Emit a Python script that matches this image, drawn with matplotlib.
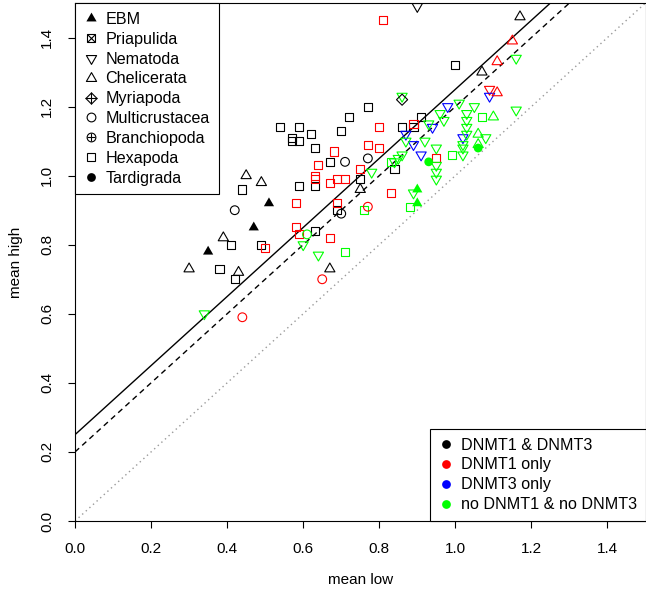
import numpy as np
import matplotlib
matplotlib.use("Agg")
import matplotlib.pyplot as plt
from matplotlib.lines import Line2D
from matplotlib.path import Path

plt.rcParams['font.family'] = ['Liberation Sans', 'DejaVu Sans']

# DNMT status -> colour
status_colors = {"both": "black", "d1": "red", "d3": "blue", "none": "#00ff00"}
status_labels = ["DNMT1 & DNMT3", "DNMT1 only", "DNMT3 only", "no DNMT1 & no DNMT3"]
status_order = ["both", "d1", "d3", "none"]

# reference lines: intercepts of slope-1 lines
solid_icpt = 0.25
dashed_icpt = 0.20
dotted_icpt = 0.0

# ---- data per taxon (mean low, mean high, DNMT status) ----
hexa_x = [0.44, 0.54, 0.59, 0.62, 0.57, 0.57, 0.59, 0.63, 0.67, 0.59, 0.63, 0.69, 0.63,
          0.41, 0.49, 0.38, 0.42, 0.72, 0.77, 1.00, 0.91, 0.86, 0.89, 0.84, 0.75,
          0.81, 0.68, 0.64, 0.63, 0.63, 0.67, 0.69, 0.71, 0.75, 0.58, 0.69, 0.58, 0.59,
          0.67, 0.50, 0.80, 0.80, 0.77, 0.89, 0.95, 0.83,
          0.71, 1.07, 0.99, 0.88, 0.76, 0.83]
hexa_y = [0.96, 1.14, 1.14, 1.12, 1.11, 1.10, 1.10, 1.08, 1.04, 0.97, 0.97, 0.90, 0.84,
          0.80, 0.80, 0.73, 0.70, 1.17, 1.20, 1.32, 1.17, 1.14, 1.14, 1.02, 0.99,
          1.45, 1.07, 1.03, 1.00, 0.99, 0.98, 0.99, 0.99, 1.02, 0.92, 0.92, 0.85, 0.83,
          0.82, 0.79, 1.14, 1.08, 1.09, 1.15, 1.05, 0.95,
          0.78, 1.17, 1.06, 0.91, 0.90, 1.04]
hexa_s = ["both"] * 25 + ["d1"] * 21 + ["none"] * 6

nema_x = [0.90, 1.09,
          1.09, 0.98, 0.94, 0.87, 1.02, 0.89, 0.91,
          0.34, 0.60, 0.64, 1.16, 1.16, 0.86, 1.01, 1.05, 0.96, 0.97, 1.03, 1.03, 1.03,
          1.03, 0.93, 0.87, 0.92, 1.08, 1.02, 1.02, 1.02, 0.95, 0.95, 0.95, 0.95, 0.86,
          0.85, 0.84, 0.78, 0.89]
nema_y = [1.49, 1.25,
          1.23, 1.20, 1.14, 1.12, 1.11, 1.09, 1.06,
          0.60, 0.80, 0.77, 1.34, 1.19, 1.23, 1.21, 1.20, 1.18, 1.16, 1.18, 1.16, 1.14,
          1.12, 1.15, 1.10, 1.10, 1.11, 1.09, 1.08, 1.06, 1.08, 1.03, 1.01, 0.99, 1.06,
          1.05, 1.04, 1.01, 0.95]
nema_s = ["both", "d1"] + ["d3"] * 7 + ["none"] * 30

chel_x = [0.45, 0.49, 0.39, 0.30, 0.43, 0.67, 0.75, 1.17, 1.07, 1.15, 1.11, 1.11, 1.10, 1.06, 1.06]
chel_y = [1.00, 0.98, 0.82, 0.73, 0.72, 0.73, 0.96, 1.46, 1.30, 1.39, 1.33, 1.24, 1.17, 1.12, 1.09]
chel_s = ["both"] * 9 + ["d1"] * 3 + ["none"] * 3

mcru_x = [0.42, 0.70, 0.65, 0.44, 0.77, 0.61]
mcru_y = [0.90, 0.89, 0.70, 0.59, 0.91, 0.83]
mcru_s = ["both", "both", "d1", "d1", "d1", "none"]

bran_x = [0.71, 0.77]
bran_y = [1.04, 1.05]
bran_s = ["both", "both"]

myri_x = [0.86]
myri_y = [1.22]
myri_s = ["both"]

pria_x = [0.70]
pria_y = [1.13]
pria_s = ["both"]

ebm_x = [0.51, 0.47, 0.35, 0.90, 0.90]
ebm_y = [0.92, 0.85, 0.78, 0.96, 0.92]
ebm_s = ["both", "both", "both", "none", "none"]

tard_x = [1.06, 0.93]
tard_y = [1.08, 1.04]
tard_s = ["none", "none"]

# R-like equilateral triangles (centred on centroid)
tri_up = Path([(0, 1), (-0.866, -0.5), (0.866, -0.5), (0, 1)], closed=True)
tri_dn = Path([(0, -1), (-0.866, 0.5), (0.866, 0.5), (0, -1)], closed=True)
diamond = Path([(0, 1), (1, 0), (0, -1), (-1, 0), (0, 1)], closed=True)

lw = 0.8
sq_ms = 5.8
tri_ms = 8.5
circ_ms = 6.3
dia_ms = 8.0

fig = plt.figure(figsize=(6.46, 5.97), dpi=100)
ax = fig.add_axes([75 / 646, 76 / 597, 570.5 / 646, 518 / 597])


def cols(st):
    return [status_colors[s] for s in st]


def draw(x, y, st, marker, ms, filled=False, z=3):
    c = cols(st)
    if filled:
        ax.scatter(x, y, s=ms ** 2, marker=marker, c=c, edgecolors='none', zorder=z)
    else:
        ax.scatter(x, y, s=ms ** 2, marker=marker, facecolors='none', edgecolors=c,
                   linewidths=lw, zorder=z)


draw(hexa_x, hexa_y, hexa_s, 's', sq_ms)
draw(nema_x, nema_y, nema_s, tri_dn, tri_ms)
draw(chel_x, chel_y, chel_s, tri_up, tri_ms)
draw(mcru_x, mcru_y, mcru_s, 'o', circ_ms)
draw(bran_x, bran_y, bran_s, 'o', circ_ms)
draw(bran_x, bran_y, bran_s, '+', circ_ms)
draw(myri_x, myri_y, myri_s, diamond, dia_ms)
draw(myri_x, myri_y, myri_s, '+', dia_ms)
draw(pria_x, pria_y, pria_s, 's', sq_ms)
draw(pria_x, pria_y, pria_s, 'x', sq_ms)
draw(ebm_x, ebm_y, ebm_s, tri_up, tri_ms, filled=True)
draw(tard_x, tard_y, tard_s, 'o', circ_ms, filled=True)

ax.axline((0, solid_icpt), slope=1, color='black', lw=1.0, zorder=2)
ax.axline((0, dashed_icpt), slope=1, color='black', lw=1.0, ls=(0, (4, 3)), zorder=2)
ax.axline((0, dotted_icpt), slope=1, color='#9a9a9a', lw=1.0, ls=(0, (1, 2.5)), zorder=2)

ax.set_xlim(0, 1.5)
ax.set_ylim(0, 1.5)
ticks = [0.0, 0.2, 0.4, 0.6, 0.8, 1.0, 1.2, 1.4]
ax.set_xticks(ticks)
ax.set_yticks(ticks)
ax.set_xticklabels([f"{t:.1f}" for t in ticks])
ax.set_yticklabels([f"{t:.1f}" for t in ticks], rotation=90, va='center')
ax.tick_params(direction='out', length=5, width=0.8, labelsize=11, pad=10)
for sp in ax.spines.values():
    sp.set_linewidth(0.8)
ax.set_xlabel("mean low", fontsize=11, labelpad=12)
ax.set_ylabel("mean high", fontsize=11, labelpad=12)


def mk(marker, ms, filled=False):
    if filled:
        return Line2D([], [], ls='none', marker=marker, ms=ms, color='black', mec='none')
    return Line2D([], [], ls='none', marker=marker, ms=ms, mfc='none', mec='black', mew=lw)


# taxon legend
h_tax = [
    mk(tri_up, tri_ms, True),
    (mk('s', sq_ms), mk('x', sq_ms)),
    mk(tri_dn, tri_ms),
    mk(tri_up, tri_ms),
    (mk(diamond, dia_ms), mk('+', dia_ms)),
    mk('o', circ_ms),
    (mk('o', circ_ms), mk('+', circ_ms)),
    mk('s', sq_ms),
    mk('o', circ_ms, True),
]
tax_names = ["EBM", "Priapulida", "Nematoda", "Chelicerata", "Myriapoda",
             "Multicrustacea", "Branchiopoda", "Hexapoda", "Tardigrada"]
leg_kw = dict(borderaxespad=0, fancybox=False, edgecolor='black', framealpha=1,
              fontsize=11.6, handlelength=0.9, handletextpad=0.45, labelspacing=0.3,
              borderpad=0.55)
leg1 = ax.legend(h_tax, tax_names, loc='upper left', bbox_to_anchor=(0, 1), **leg_kw)
leg1.get_frame().set_linewidth(0.8)
ax.add_artist(leg1)

h_st = [Line2D([], [], ls='none', marker='o', ms=circ_ms, color=status_colors[s], mec='none')
        for s in status_order]
leg2 = ax.legend(h_st, status_labels, loc='lower right', bbox_to_anchor=(1, 0), **leg_kw)
leg2.get_frame().set_linewidth(0.8)

fig.savefig("out.png", dpi=100)
